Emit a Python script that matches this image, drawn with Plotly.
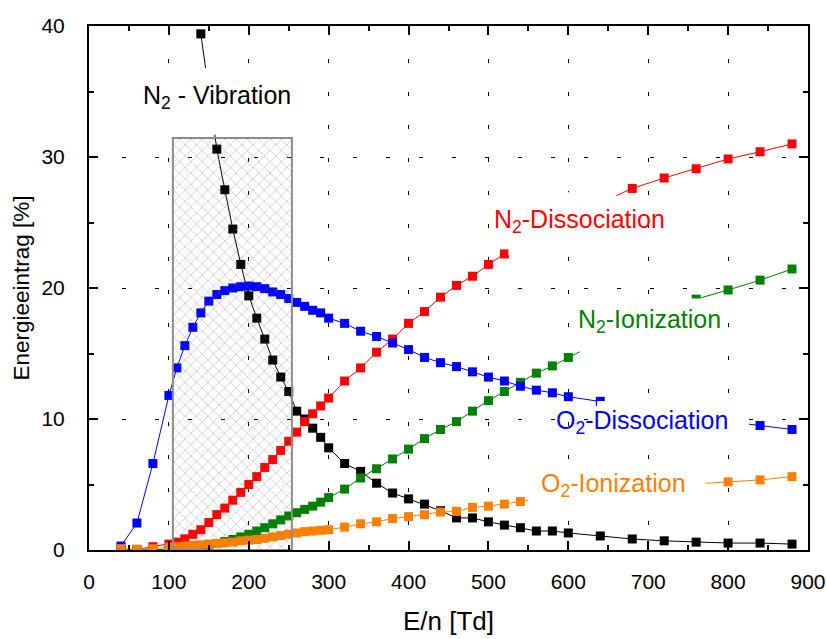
import plotly.graph_objects as go

# ---- data: energy deposition [%] vs reduced field E/n [Td] ----
vib_x = [140, 160, 170, 180, 190, 200, 210, 220, 230, 240, 250, 260, 270, 280, 290,
         300, 320, 340, 360, 380, 400, 420, 440, 460, 480, 500, 520, 540, 560, 580,
         600, 640, 680, 720, 760, 800, 840, 880]
vib_y = [39.4, 30.6, 27.5, 24.5, 21.8, 19.4, 17.7, 16.1, 14.5, 13.2, 12.1, 10.6, 10.0, 9.3, 8.6,
         7.8, 6.6, 6.0, 5.1, 4.35, 3.9, 3.5, 3.0, 2.45, 2.45, 2.15, 1.9, 1.7, 1.45, 1.45,
         1.3, 1.07, 0.84, 0.7, 0.6, 0.53, 0.53, 0.45]

dense_x = [40, 60, 80, 100, 110, 120, 130, 140, 150, 160, 170, 180, 190, 200, 210, 220,
           230, 240, 250, 260, 270, 280, 290, 300, 320, 340, 360, 380, 400, 420, 440,
           460, 480, 500, 520, 540, 560, 580, 600, 640, 680, 720, 760, 800, 840, 880]

n2diss_y = [0.0, 0.05, 0.25, 0.45, 0.6, 0.85, 1.2, 1.55, 2.1, 2.7, 3.2, 3.8, 4.4, 5.0, 5.6, 6.3,
            6.9, 7.6, 8.3, 9.0, 9.8, 10.4, 11.0, 11.6, 12.9, 13.9, 15.1, 16.1, 17.3, 18.2, 19.3,
            20.2, 20.9, 21.8, 22.6, 23.3, 24.0, 24.6, 25.3, 26.5, 27.6, 28.4, 29.1, 29.85, 30.4, 31.0]

n2ion_y = [0.0, 0.0, 0.02, 0.05, 0.1, 0.15, 0.2, 0.3, 0.4, 0.5, 0.65, 0.8, 1.0, 1.2, 1.45, 1.7,
           2.0, 2.3, 2.6, 2.85, 3.1, 3.35, 3.65, 4.0, 4.65, 5.5, 6.2, 6.95, 7.7, 8.5, 9.2,
           9.8, 10.6, 11.4, 12.1, 12.8, 13.5, 14.05, 14.7, 15.95, 17.0, 18.1, 19.15, 19.85, 20.6, 21.45]

o2diss_y = [0.3, 2.06, 6.6, 11.8, 13.9, 15.6, 17.0, 18.1, 19.0, 19.5, 19.8, 20.0, 20.1, 20.15, 20.1, 19.95,
            19.7, 19.5, 19.2, 18.9, 18.6, 18.3, 18.1, 17.7, 17.3, 16.7, 16.3, 15.8, 15.3, 14.7, 14.3,
            14.0, 13.6, 13.2, 12.9, 12.5, 12.2, 12.0, 11.7, 11.35, 11.0, 10.6, 10.2, 9.8, 9.5, 9.2]

o2ion_y = [0.1, 0.05, 0.1, 0.2, 0.25, 0.3, 0.35, 0.4, 0.45, 0.5, 0.55, 0.6, 0.7, 0.75, 0.8, 0.9,
           1.0, 1.1, 1.2, 1.3, 1.4, 1.45, 1.5, 1.55, 1.75, 2.0, 2.15, 2.4, 2.55, 2.7, 2.9,
           2.95, 3.25, 3.35, 3.5, 3.7, 3.9, 4.05, 4.2, 4.5, 4.7, 4.9, 5.05, 5.2, 5.35, 5.6]

# E/n window of the shaded region and its height
window_x = [105, 254]
window_top = 31.45

FONT = "Arial, 'Liberation Sans', sans-serif"

fig = go.Figure()

series = [
    (vib_x, vib_y, "black"),
    (dense_x, n2diss_y, "#ff0000"),
    (dense_x, n2ion_y, "#008000"),
    (dense_x, o2diss_y, "#0000ff"),
    (dense_x, o2ion_y, "#ff8000"),
]
for xs, ys, col in series:
    fig.add_trace(go.Scatter(
        x=xs, y=ys, mode="lines+markers",
        line=dict(color=col, width=1),
        marker=dict(symbol="square", size=9, color=col, line=dict(width=0)),
        showlegend=False,
    ))

# cross-hatched window drawn over the curves
wx0, wx1 = window_x
fig.add_trace(go.Scatter(
    x=[wx0, wx1, wx1, wx0, wx0], y=[0, 0, window_top, window_top, 0],
    mode="lines", fill="toself", fillcolor="rgba(0,0,0,0)",
    fillpattern=dict(shape="x", fgcolor="#737373", size=8, solidity=0.15),
    line=dict(color="#8c8c8c", width=2),
    showlegend=False, hoverinfo="skip",
))

# white label boxes that mask the curves behind the labels
boxes = [
    (62, 262, 31.7, 36.8),
    (525, 660, 22.5, 27.3),
    (614, 766, 14.5, 19.2),
    (636, 826, 8.0, 11.38),
    (550, 772, 3.0, 5.5),
]
for x0, x1, y0, y1 in boxes:
    fig.add_shape(type="rect", xref="x", yref="y", x0=x0, x1=x1, y0=y0, y1=y1,
                  fillcolor="white", line=dict(width=0), layer="above")

labels = [
    ("N<sub>2</sub> - Vibration", 160, 34.6, "black"),
    ("N<sub>2</sub>-Dissociation", 614, 25.1, "#ff0000"),
    ("N<sub>2</sub>-Ionization", 702, 17.5, "#008000"),
    ("O<sub>2</sub>-Dissociation", 692, 9.8, "#0000ff"),
    ("O<sub>2</sub>-Ionization", 656, 5.0, "#ff8000"),
]
for txt, x, y, col in labels:
    fig.add_annotation(x=x, y=y, text=txt, showarrow=False, xanchor="center", yanchor="middle",
                       font=dict(family=FONT, size=25, color=col))

axis_common = dict(
    showline=True, linecolor="black", linewidth=2, mirror="ticks",
    ticks="inside", ticklen=9, tickwidth=2, tickcolor="black",
    showgrid=True, gridcolor="black", gridwidth=1, griddash="4px,29px",
    zeroline=False,
    tickfont=dict(family=FONT, size=21, color="black"),
)

fig.update_xaxes(
    range=[0, 900], dtick=100, tick0=0,
    minor=dict(dtick=50, ticks="inside", ticklen=5, tickwidth=2, tickcolor="black", showgrid=False),
    title=dict(text="E/n [Td]", font=dict(family=FONT, size=26, color="black"), standoff=20),
    ticklabelstandoff=12,
    **axis_common,
)
fig.update_yaxes(
    range=[0, 40], dtick=10, tick0=0,
    minor=dict(dtick=5, ticks="inside", ticklen=5, tickwidth=2, tickcolor="black", showgrid=False),
    title=dict(text="Energieeintrag [%]", font=dict(family=FONT, size=22.5, color="black"), standoff=6),
    ticklabelstandoff=18,
    **axis_common,
)

fig.update_layout(
    width=826, height=639,
    margin=dict(l=89, r=18, t=26, b=89, autoexpand=False),
    paper_bgcolor="white", plot_bgcolor="white",
    showlegend=False,
)

fig.write_html("out.html")
